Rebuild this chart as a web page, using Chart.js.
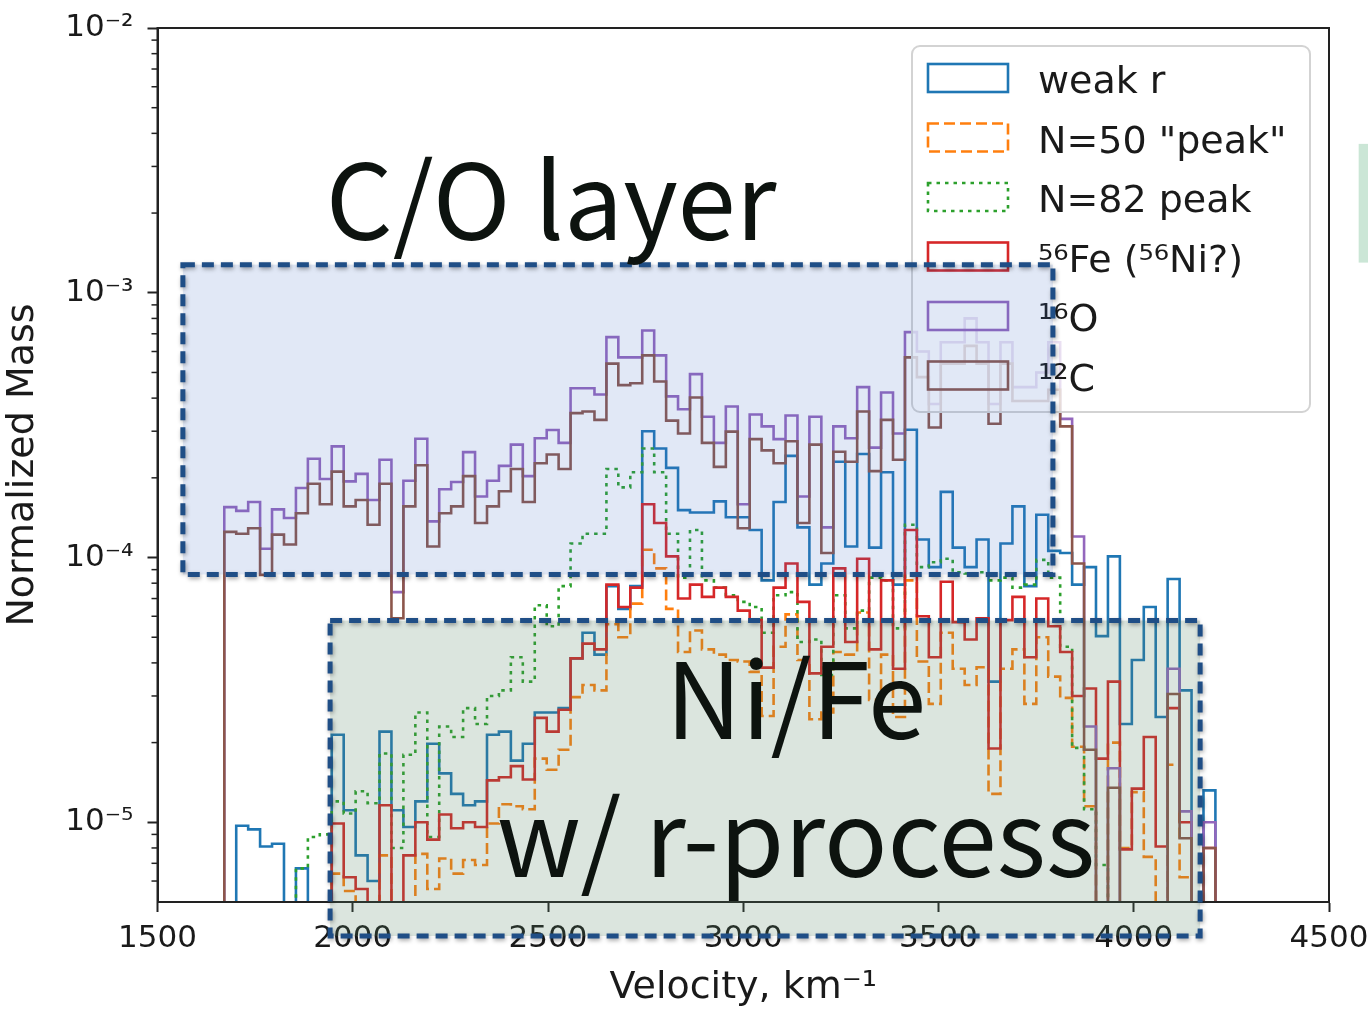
<!DOCTYPE html>
<html>
<head>
<meta charset="utf-8">
<script src="https://cdn.jsdelivr.net/npm/chart.js@4.4.1/dist/chart.umd.min.js"></script>
<style>
  html, body { margin: 0; padding: 0; background: #fff; overflow: hidden; }
  #wrap { width: 1368px; height: 1013px; overflow: hidden; position: relative; }
  canvas { display: block; }
</style>
</head>
<body>
<div id="wrap"><canvas id="c" width="1400" height="1013" style="width:1400px;height:1013px"></canvas></div>
<script>
// Velocity bin edges (km/s), 83 bins
const binEdges = [
  1671.0, 1701.6, 1732.2, 1762.7, 1793.3, 1823.9, 1854.5, 1885.1, 1915.6, 1946.2,
  1976.8, 2007.4, 2038.0, 2068.5, 2099.1, 2129.7, 2160.3, 2190.9, 2221.4, 2252.0,
  2282.6, 2313.2, 2343.8, 2374.3, 2404.9, 2435.5, 2466.1, 2496.7, 2527.2, 2557.8,
  2588.4, 2619.0, 2649.6, 2680.1, 2710.7, 2741.3, 2771.9, 2802.5, 2833.0, 2863.6,
  2894.2, 2924.8, 2955.4, 2985.9, 3016.5, 3047.1, 3077.7, 3108.3, 3138.8, 3169.4,
  3200.0, 3230.6, 3261.2, 3291.7, 3322.3, 3352.9, 3383.5, 3414.1, 3444.6, 3475.2,
  3505.8, 3536.4, 3567.0, 3597.5, 3628.1, 3658.7, 3689.3, 3719.9, 3750.4, 3781.0,
  3811.6, 3842.2, 3872.8, 3903.3, 3933.9, 3964.5, 3995.1, 4025.7, 4056.2, 4086.8,
  4117.4, 4148.0, 4178.6, 4209.1
];

// Normalized mass per bin (0 = empty bin)
const weakR = [
  0, 9.7e-6, 9.4e-6, 8.1e-6, 8.3e-6, 0, 6.7e-6, 0, 0, 2.14e-5,
  1.11e-5, 7.5e-6, 6.0e-6, 2.2e-5, 1.11e-5, 9.6e-6, 1.2e-5, 1.98e-5, 1.53e-5, 1.28e-5,
  1.16e-5, 1.2e-5, 2.14e-5, 2.2e-5, 1.71e-5, 1.98e-5, 2.6e-5, 2.6e-5, 2.7e-5, 4.16e-5,
  5.2e-5, 4.3e-5, 7.8e-5, 6.4e-5, 7.8e-5, 3.0e-4, 2.58e-4, 2.18e-4, 1.51e-4, 1.48e-4,
  1.48e-4, 1.63e-4, 1.42e-4, 1.42e-4, 1.27e-4, 8.2e-5, 1.62e-4, 2.42e-4, 1.3e-4, 7.9e-5,
  9.5e-5, 2.3e-4, 1.1e-4, 2.46e-4, 1.09e-4, 2.1e-4, 7.9e-5, 3.04e-4, 1.17e-4, 9.2e-5,
  1.77e-4, 1.09e-4, 9.2e-5, 1.17e-4, 3.4e-5, 1.13e-4, 1.56e-4, 7.8e-5, 1.45e-4, 1.06e-4,
  1.04e-4, 7.9e-5, 9.2e-5, 5.05e-5, 1.01e-4, 2.35e-5, 4.1e-5, 6.5e-5, 2.5e-5, 8.3e-5,
  3.15e-5, 0, 1.32e-5
];
const n50Peak = [
  0, 0, 0, 0, 0, 0, 0, 0, 0, 6.4e-6,
  5.5e-6, 0, 0, 7.5e-6, 0, 0, 7.6e-6, 5.6e-6, 7.3e-6, 6.4e-6,
  7.2e-6, 6.9e-6, 9.9e-6, 1.17e-5, 1.15e-5, 1.12e-5, 1.74e-5, 1.58e-5, 1.88e-5, 2.97e-5,
  3.3e-5, 3.15e-5, 5.6e-5, 5.0e-5, 6.7e-5, 1.07e-4, 9.1e-5, 6.4e-5, 4.4e-5, 5.3e-5,
  4.5e-5, 4.3e-5, 4.1e-5, 4.05e-5, 3.7e-5, 2.52e-5, 4.6e-5, 6.1e-5, 4.1e-5, 2.45e-5,
  2.6e-5, 4.4e-5, 4.3e-5, 6.2e-5, 2.9e-5, 4.3e-5, 2.5e-5, 8.2e-5, 4.05e-5, 2.8e-5,
  5.2e-5, 3.8e-5, 3.3e-5, 3.85e-5, 1.28e-5, 3.8e-5, 4.5e-5, 2.8e-5, 5.0e-5, 3.55e-5,
  2.95e-5, 1.93e-5, 1.15e-5, 0, 2.0e-5, 8.0e-6, 1.3e-5, 7.4e-6, 0, 1.65e-5,
  6.2e-6, 0, 0
];
const n82Peak = [
  0, 0, 0, 0, 0, 0, 6.7e-6, 8.8e-6, 9.0e-6, 1.2e-5,
  1.08e-5, 1.31e-5, 1.18e-5, 1.82e-5, 8.0e-6, 1.8e-5, 2.6e-5, 8.8e-6, 2.3e-5, 2.1e-5,
  2.7e-5, 2.35e-5, 3.0e-5, 3.15e-5, 4.2e-5, 3.4e-5, 6.6e-5, 5.5e-5, 7.8e-5, 1.13e-4,
  1.23e-4, 1.23e-4, 2.16e-4, 1.84e-4, 2.1e-4, 2.58e-4, 2.1e-4, 1.23e-4, 8.4e-5, 1.27e-4,
  8.2e-5, 7.7e-5, 7.2e-5, 6.8e-5, 6.5e-5, 5.2e-5, 7.2e-5, 7.4e-5, 4.8e-5, 4.9e-5,
  3.6e-5, 7.2e-5, 5.4e-5, 6.3e-5, 8.4e-5, 8.2e-5, 5.4e-5, 1.33e-4, 9.2e-5, 9.6e-5,
  9.9e-5, 8.8e-5, 8.7e-5, 8.8e-5, 8.2e-5, 8.4e-5, 7.7e-5, 7.9e-5, 9.8e-5, 8.4e-5,
  4.6e-5, 1.91e-5, 1.12e-5, 6.9e-6, 0, 0, 0, 0, 0, 0,
  0, 0, 0
];
const fe56 = [
  0, 0, 0, 0, 0, 0, 0, 0, 0, 9.9e-6,
  6.2e-6, 5.6e-6, 0, 1.16e-5, 0, 7.5e-6, 1.0e-5, 8.6e-6, 1.07e-5, 9.5e-6,
  1.0e-5, 9.6e-6, 1.44e-5, 1.48e-5, 1.63e-5, 1.45e-5, 2.48e-5, 2.2e-5, 2.66e-5, 4.16e-5,
  4.73e-5, 4.5e-5, 7.9e-5, 6.5e-5, 7.7e-5, 1.59e-4, 1.35e-4, 1.01e-4, 7.0e-5, 7.9e-5,
  7.1e-5, 7.7e-5, 7.1e-5, 6.3e-5, 5.8e-5, 3.84e-5, 7.7e-5, 9.5e-5, 6.8e-5, 3.65e-5,
  4.6e-5, 9.1e-5, 4.8e-5, 9.9e-5, 4.5e-5, 8.2e-5, 3.8e-5, 1.27e-4, 6.0e-5, 4.2e-5,
  8.1e-5, 5.7e-5, 4.9e-5, 5.9e-5, 1.9e-5, 5.8e-5, 7.1e-5, 4.2e-5, 7.0e-5, 5.5e-5,
  4.4e-5, 3.0e-5, 3.2e-5, 1.74e-5, 3.4e-5, 7.9e-6, 1.34e-5, 2.1e-5, 8.1e-6, 2.7e-5,
  1.0e-5, 0, 8.0e-6
];
const o16 = [
  1.55e-4, 1.5e-4, 1.62e-4, 1.08e-4, 1.52e-4, 1.41e-4, 1.83e-4, 2.36e-4, 1.98e-4, 2.63e-4,
  1.94e-4, 2.07e-4, 1.65e-4, 2.34e-4, 7.4e-5, 1.95e-4, 2.81e-4, 1.37e-4, 1.81e-4, 1.93e-4,
  2.5e-4, 1.7e-4, 1.95e-4, 2.22e-4, 2.67e-4, 2.03e-4, 2.82e-4, 3.03e-4, 2.71e-4, 4.36e-4,
  4.36e-4, 4.13e-4, 6.8e-4, 5.7e-4, 5.7e-4, 7.2e-4, 5.8e-4, 4.06e-4, 3.63e-4, 4.93e-4,
  3.4e-4, 2.71e-4, 3.72e-4, 1.59e-4, 3.47e-4, 3.13e-4, 2.8e-4, 3.44e-4, 1.7e-4, 3.4e-4,
  1.3e-4, 3.13e-4, 2.82e-4, 4.4e-4, 2.6e-4, 4.2e-4, 2.94e-4, 7.1e-4, 6.0e-4, 3.8e-4,
  6.5e-4, 6.5e-4, 8.0e-4, 6.5e-4, 3.8e-4, 6.5e-4, 4.4e-4, 4.4e-4, 5.0e-4, 6.5e-4,
  3.34e-4, 1.2e-4, 2.3e-5, 0, 1.6e-5, 0, 0, 0, 0, 3.8e-5,
  1.1e-5, 0, 1.0e-5
];
const c12 = [
  1.25e-4, 1.23e-4, 1.29e-4, 8.6e-5, 1.22e-4, 1.12e-4, 1.47e-4, 1.9e-4, 1.59e-4, 2.11e-4,
  1.56e-4, 1.65e-4, 1.33e-4, 1.9e-4, 5.9e-5, 1.56e-4, 2.23e-4, 1.1e-4, 1.47e-4, 1.56e-4,
  2.03e-4, 1.35e-4, 1.56e-4, 1.78e-4, 2.16e-4, 1.62e-4, 2.27e-4, 2.45e-4, 2.16e-4, 3.51e-4,
  3.56e-4, 3.31e-4, 5.4e-4, 4.48e-4, 4.55e-4, 5.8e-4, 4.62e-4, 3.29e-4, 2.94e-4, 4.02e-4,
  2.71e-4, 2.2e-4, 2.99e-4, 1.29e-4, 2.8e-4, 2.54e-4, 2.27e-4, 2.75e-4, 1.35e-4, 2.67e-4,
  1.04e-4, 2.51e-4, 2.3e-4, 3.56e-4, 2.12e-4, 3.31e-4, 2.34e-4, 5.7e-4, 4.8e-4, 3.1e-4,
  5.4e-4, 5.4e-4, 6.3e-4, 5.4e-4, 3.2e-4, 5.4e-4, 3.9e-4, 3.9e-4, 3.9e-4, 4.3e-4,
  3.13e-4, 9.5e-5, 1.88e-5, 0, 1.35e-5, 0, 0, 0, 0, 3.05e-5,
  8.7e-6, 0, 8.0e-6
];

const seriesLabels = ['weak r', 'N=50 "peak"', 'N=82 peak', '\u2075\u2076Fe (\u2075\u2076Ni?)', '\u00b9\u2076O', '\u00b9\u00b2C'];
const seriesColors = ['#1f77b4', '#ff7f0e', '#2ca02c', '#d62728', '#9467bd', '#8c564b'];
const seriesDashes = [[], [11, 5], [3.5, 5], [], [], []];
const seriesValues = [weakR, n50Peak, n82Peak, fe56, o16, c12];

// Axis ticks
const xTickValues = [1500, 2000, 2500, 3000, 3500, 4000, 4500];
const yTickValues = [1e-5, 1e-4, 1e-3, 1e-2];
const yTickLabels = ['10\u207b\u2075', '10\u207b\u2074', '10\u207b\u00b3', '10\u207b\u00b2'];

// Annotation regions in data units (velocity, normalized mass)
const regionBoxes = [
  { v0: 1565, v1: 3793, m0: 8.63e-5, m1: 1.277e-3, fill: 'rgba(68,114,196,0.16)', dashed: true },
  { v0: 1942, v1: 4170, m0: 3.72e-6, m1: 5.78e-5, fill: 'rgba(84,130,100,0.21)', dashed: true },
  { v0: 4576, v1: 4700, m0: 1.3e-3, m1: 3.65e-3, fill: 'rgba(140,200,165,0.45)', dashed: false }
];
const regionTexts = [
  { text: 'C/O layer', v: 2508, m: 1.585e-3 },
  { text: 'Ni/Fe', v: 3135, m: 2.06e-5 },
  { text: 'w/ r-process', v: 3135, m: 6.2e-6 }
];

const FLOOR = 1e-8; // empty bins drop below the axis

function histPoints(values) {
  const pts = [{ x: binEdges[0], y: FLOOR }];
  values.forEach((v, i) => pts.push({ x: binEdges[i], y: v > 0 ? v : FLOOR }));
  const last = values[values.length - 1];
  pts.push({ x: binEdges[values.length], y: last > 0 ? last : FLOOR });
  pts.push({ x: binEdges[values.length], y: FLOOR });
  return pts;
}

const datasets = seriesValues.map((vals, i) => ({
  label: seriesLabels[i],
  data: histPoints(vals),
  borderColor: seriesColors[i],
  borderDash: seriesDashes[i],
  borderWidth: 2.6,
  stepped: 'before',
  fill: false,
  pointRadius: 0,
  order: seriesValues.length - i
}));

const overlay = {
  id: 'overlay',
  afterDatasetsDraw(chart) {
    const { ctx, chartArea: a } = chart;
    const ys = chart.scales.y;
    ctx.save();
    // minor ticks on the log axis
    ctx.strokeStyle = '#222';
    ctx.lineWidth = 1.5;
    for (let e = -6; e <= -3; e++) {
      for (let m = 2; m <= 9; m++) {
        const v = m * Math.pow(10, e);
        if (v < ys.min * 1.0001 || v > ys.max) continue;
        const py = ys.getPixelForValue(v);
        ctx.beginPath();
        ctx.moveTo(a.left, py);
        ctx.lineTo(a.left - 6, py);
        ctx.stroke();
      }
    }
    // axes frame
    ctx.lineWidth = 2;
    ctx.strokeRect(a.left, a.top, a.right - a.left, a.bottom - a.top);
    ctx.restore();
  },
  afterDraw(chart) {
    const { ctx, chartArea: a } = chart;
    const xs = chart.scales.x, ys = chart.scales.y;
    ctx.save();

    // legend
    const lx = a.right - 417, ly = a.top + 18, lw = 398, lh = 366;
    ctx.beginPath();
    ctx.roundRect(lx, ly, lw, lh, 8);
    ctx.fillStyle = 'rgba(255,255,255,0.8)';
    ctx.fill();
    ctx.strokeStyle = '#d3d3d3';
    ctx.lineWidth = 2;
    ctx.stroke();
    ctx.font = '38px "DejaVu Sans"';
    ctx.textBaseline = 'alphabetic';
    ctx.textAlign = 'left';
    chart.data.datasets.forEach((ds, k) => {
      const hy = ly + 18 + k * 59.5;
      ctx.setLineDash(ds.borderDash);
      ctx.strokeStyle = ds.borderColor;
      ctx.lineWidth = 2.6;
      ctx.strokeRect(lx + 16, hy, 80, 28);
      ctx.setLineDash([]);
      ctx.fillStyle = '#1a1a1a';
      ctx.fillText(ds.label, lx + 126, hy + 29);
    });

    // highlighted regions
    regionBoxes.forEach(b => {
      const x1 = xs.getPixelForValue(b.v0), x2 = xs.getPixelForValue(b.v1);
      const y1 = ys.getPixelForValue(b.m1), y2 = ys.getPixelForValue(b.m0);
      ctx.fillStyle = b.fill;
      ctx.fillRect(x1, y1, x2 - x1, y2 - y1);
      if (b.dashed) {
        ctx.save();
        ctx.shadowColor = 'rgba(0,0,0,0.35)';
        ctx.shadowBlur = 4;
        ctx.shadowOffsetX = 1;
        ctx.shadowOffsetY = 2;
        ctx.setLineDash([12, 7]);
        ctx.strokeStyle = '#1f4e86';
        ctx.lineWidth = 5;
        ctx.strokeRect(x1, y1, x2 - x1, y2 - y1);
        ctx.restore();
      }
    });

    // region captions
    ctx.fillStyle = '#0d130f';
    ctx.font = '105px "Noto Sans CJK JP"';
    ctx.textAlign = 'center';
    ctx.textBaseline = 'alphabetic';
    regionTexts.forEach(t => {
      ctx.fillText(t.text, xs.getPixelForValue(t.v), ys.getPixelForValue(t.m));
    });
    ctx.restore();
  }
};

new Chart(document.getElementById('c'), {
  type: 'line',
  data: { datasets },
  plugins: [overlay],
  options: {
    responsive: false,
    animation: false,
    devicePixelRatio: 1,
    layout: { padding: { left: 0, right: 71, top: 28, bottom: 0 } },
    plugins: { legend: { display: false }, tooltip: { enabled: false } },
    scales: {
      x: {
        type: 'linear',
        min: 1500,
        max: 4500,
        afterBuildTicks: s => { s.ticks = xTickValues.map(v => ({ value: v })); },
        afterFit: s => { s.height = 111; },
        ticks: {
          autoSkip: false,
          maxRotation: 0,
          color: '#1a1a1a',
          font: { family: 'DejaVu Sans', size: 31 },
          padding: 8,
          callback: v => String(v)
        },
        grid: { drawOnChartArea: false, tickLength: 10, tickWidth: 2, tickColor: '#222' },
        border: { color: '#222', width: 2 },
        title: {
          display: true,
          text: 'Velocity, km\u207b\u00b9',
          color: '#1a1a1a',
          font: { family: 'DejaVu Sans', size: 38 },
          padding: { top: 0, bottom: 2 }
        }
      },
      y: {
        type: 'logarithmic',
        min: 5e-6,
        max: 1e-2,
        afterBuildTicks: s => { s.ticks = yTickValues.map(v => ({ value: v, major: true })); },
        afterFit: s => { s.width = 157.5; s.paddingTop = 0; s.paddingBottom = 0; },
        ticks: {
          autoSkip: false,
          color: '#1a1a1a',
          font: { family: 'DejaVu Sans', size: 31 },
          padding: 14,
          callback: v => {
            const i = yTickValues.findIndex(t => Math.abs(Math.log10(t) - Math.log10(v)) < 1e-6);
            return i >= 0 ? yTickLabels[i] : '';
          }
        },
        grid: { drawOnChartArea: false, tickLength: 10, tickWidth: 2, tickColor: '#222' },
        border: { color: '#222', width: 2 },
        title: {
          display: true,
          text: 'Normalized Mass',
          color: '#1a1a1a',
          font: { family: 'DejaVu Sans', size: 38 },
          padding: { top: 0, bottom: 0 }
        }
      }
    }
  }
});
</script>
</body>
</html>
